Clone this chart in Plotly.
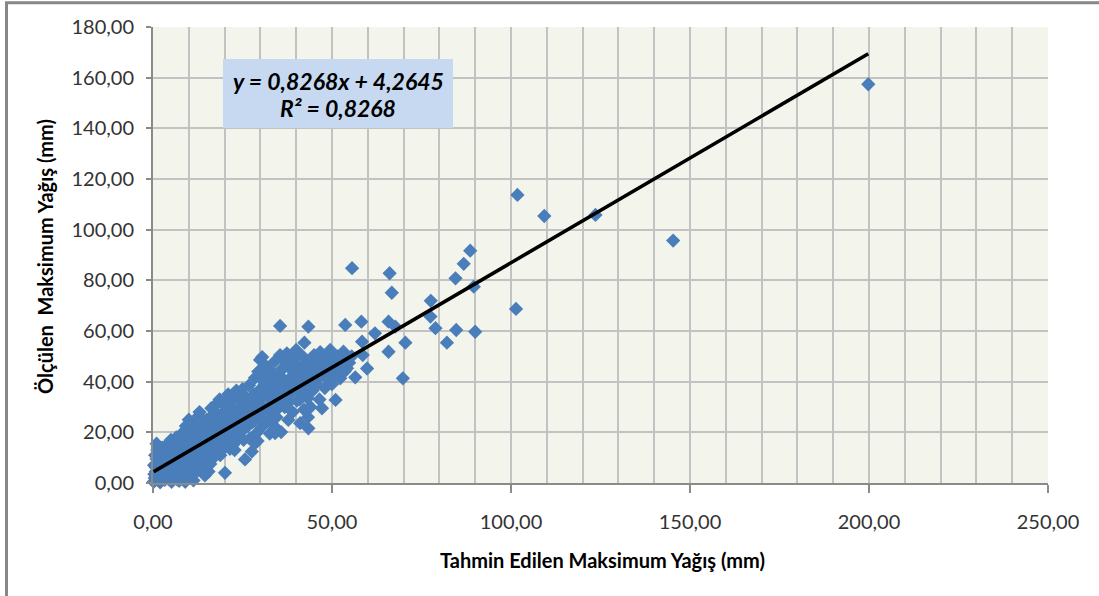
import plotly.graph_objects as go

# --- Yoğun küme: tahmin edilen (x) ve ölçülen (y) maksimum yağış, mm ---
kume_x = [
    0.2, 0.5, 0.8, 0.3, 1.0, 1.5, 1.8, 2.2, 2.5, 2.8,
    0.6, 1.2, 2.0, 2.6, 3.0, 3.3, 3.5, 3.8, 4.0, 4.3,
    4.6, 5.0, 5.2, 5.5, 5.8, 4.8, 3.6, 5.9, 6.2, 6.5,
    6.8, 7.0, 7.3, 7.6, 8.0, 8.3, 8.6, 8.9, 7.8, 6.0,
    8.5, 9.2, 9.5, 9.8, 10.2, 10.5, 10.8, 11.0, 11.3, 11.6,
    12.0, 9.0, 10.0, 11.8, 12.2, 12.5, 12.8, 13.2, 13.5, 13.8,
    14.2, 14.5, 14.8, 13.0, 14.0, 15.0, 15.3, 15.6, 16.0, 16.3,
    16.6, 17.0, 17.3, 17.6, 18.0, 16.8, 15.5, 17.8, 18.3, 18.6,
    19.0, 19.3, 19.6, 20.0, 20.3, 20.6, 20.1, 18.8, 21.0, 19.5,
    21.3, 21.6, 22.0, 22.3, 22.6, 23.0, 23.3, 23.6, 24.0, 22.8,
    23.8, 21.5, 24.3, 24.6, 25.0, 25.3, 25.7, 25.8, 26.2, 26.5,
    26.8, 27.0, 27.6, 27.3, 27.8, 28.2, 28.5, 28.8, 29.0, 29.4,
    29.6, 29.9, 30.0, 28.5, 30.3, 29.2, 30.6, 31.0, 31.3, 31.6,
    32.0, 32.3, 32.6, 33.0, 33.3, 30.5, 32.8, 31.8, 33.6, 34.0,
    34.1, 34.5, 34.8, 35.2, 35.5, 35.8, 36.0, 35.0, 33.8, 36.4,
    36.8, 37.2, 37.4, 37.8, 38.0, 38.4, 38.8, 39.0, 39.4, 39.8,
    40.2, 40.6, 41.0, 41.1, 41.4, 41.8, 42.2, 42.5, 40.0, 42.8,
    43.2, 43.3, 43.4, 43.8, 44.2, 44.6, 45.0, 44.0, 45.4, 45.8,
    46.2, 46.7, 46.5, 47.0, 47.2, 47.5, 48.0, 48.3, 48.7, 49.2,
    49.5, 50.0, 50.5, 51.0, 51.0, 51.5, 52.0, 52.3, 52.8, 53.2,
    53.5, 53.7, 54.2, 54.8, 56.5, 55.5,
    1.3, 2.3, 3.1, 4.1, 5.3, 6.4, 7.2, 8.2, 9.6, 10.6,
    11.5, 12.6, 13.6, 14.6, 15.8, 16.9, 18.2, 19.4, 20.4, 21.2,
    22.5, 23.5, 24.5, 25.5, 26.5, 27.5, 28.3, 29.8, 31.2, 32.5,
    33.5, 34.5, 35.5, 36.5, 37.5, 38.5, 39.5, 40.5, 41.5, 42.5,
    0.4, 0.9, 1.6, 2.4, 3.2, 4.4, 5.6, 6.6, 7.4, 8.8,
    9.4, 10.4, 11.2, 12.4, 13.3, 14.3, 15.2, 16.2, 17.2, 18.4,
    19.2, 20.2, 21.0, 22.0, 23.0, 24.2, 25.2, 26.2, 27.2, 28.0,
    29.0, 30.0, 31.0, 32.0, 33.0, 34.0, 35.0, 36.0, 37.0, 38.0,
    39.0, 40.0, 41.0, 42.0, 43.0, 44.0, 45.0, 46.0, 47.0, 48.0,
    49.0, 50.0, 51.0, 52.0, 1.0, 2.0, 3.0, 4.0, 5.0, 6.0,
    7.0, 8.0, 9.0, 10.0, 11.0, 12.0, 13.0, 14.0, 15.0, 16.0,
]
kume_y = [
    0.5, 2.0, 4.5, 7.0, 9.5, 1.0, 5.5, 3.0, 11.5, 8.0,
    11.0, 13.0, 0.3, 14.0, 6.0, 1.2, 10.0, 15.0, 3.5, 12.5,
    7.5, 17.0, 0.5, 9.0, 14.5, 5.0, 8.5, 2.8, 11.5, 18.0,
    4.0, 15.0, 0.8, 8.5, 19.5, 13.0, 6.0, 16.5, 2.2, 7.0,
    10.5, 22.5, 3.0, 11.0, 18.0, 7.5, 14.5, 21.0, 1.0, 16.0,
    9.5, 0.5, 25.0, 24.0, 4.5, 19.5, 26.5, 12.0, 6.5, 22.0,
    15.5, 3.0, 18.5, 28.0, 10.0, 25.0, 13.5, 21.0, 7.5, 29.5,
    17.0, 24.5, 10.5, 31.0, 19.5, 27.0, 4.5, 14.5, 23.0, 33.0,
    12.5, 27.5, 20.5, 16.0, 30.5, 24.0, 4.0, 11.0, 35.0, 31.5,
    18.5, 27.0, 32.5, 15.0, 22.0, 29.0, 36.5, 17.0, 25.0, 13.0,
    33.5, 13.5, 20.0, 30.0, 37.0, 17.0, 9.3, 26.5, 33.5, 22.5,
    38.5, 17.5, 12.4, 29.0, 24.0, 35.0, 41.5, 19.5, 31.0, 44.0,
    26.5, 48.6, 37.0, 15.7, 22.0, 16.6, 42.0, 29.0, 46.5, 34.5,
    24.5, 39.0, 19.5, 44.0, 31.5, 49.7, 27.5, 36.5, 37.5, 48.0,
    19.7, 26.0, 41.5, 33.0, 50.5, 20.1, 45.0, 29.5, 22.5, 38.0,
    30.0, 47.5, 51.2, 24.9, 41.0, 35.5, 44.5, 28.0, 49.5, 38.5,
    32.5, 46.0, 41.5, 23.6, 36.0, 50.0, 29.0, 44.0, 52.5, 39.5,
    33.5, 26.0, 21.6, 47.5, 42.0, 36.5, 50.5, 30.0, 44.5, 39.0,
    48.0, 51.7, 33.0, 42.5, 29.5, 46.0, 37.5, 49.5, 41.0, 44.5,
    52.5, 39.0, 47.0, 32.8, 43.0, 50.0, 45.5, 41.3, 48.0, 51.8,
    44.0, 49.0, 45.3, 47.5, 41.7, 50.0,
    6.5, 9.0, 12.0, 9.5, 12.0, 14.0, 11.5, 16.5, 14.0, 20.0,
    12.5, 16.0, 18.0, 22.0, 17.5, 20.5, 27.0, 24.5, 20.0, 29.0,
    26.0, 21.0, 33.0, 23.5, 30.0, 33.5, 27.5, 33.0, 39.0, 34.0,
    41.0, 36.5, 44.0, 33.5, 39.0, 46.5, 43.0, 37.0, 45.0, 35.0,
    3.5, 6.0, 3.0, 5.5, 3.5, 1.5, 6.5, 1.5, 5.5, 3.0,
    6.5, 11.0, 5.5, 14.0, 9.0, 12.5, 10.0, 13.5, 21.5, 16.5,
    18.0, 26.5, 22.5, 19.0, 25.5, 28.5, 21.0, 27.0, 32.0, 30.0,
    35.0, 31.0, 40.0, 29.5, 35.0, 31.0, 38.5, 41.5, 35.0, 32.0,
    41.0, 44.0, 33.0, 47.0, 42.5, 39.5, 45.0, 41.5, 49.0, 44.0,
    47.5, 43.5, 48.5, 46.5, 15.5, 12.0, 2.0, 14.0, 10.5, 16.0,
    10.0, 4.5, 17.5, 15.0, 19.0, 21.5, 16.0, 24.5, 19.0, 23.0,
]

# --- Kümeden ayrık noktalar ---
seyrek_x = [
    35.5, 43.4, 53.7, 42.3, 55.6, 58.2, 58.4, 58.6, 59.8, 62.0,
    65.8, 67.7, 65.8, 70.5, 69.8, 66.1, 66.7, 77.6, 77.5, 78.9,
    82.1, 84.7, 90.0, 84.5, 86.8, 88.6, 89.6, 101.4, 101.8, 109.3,
    123.6, 145.3, 199.8,
]
seyrek_y = [
    62.0, 61.7, 62.4, 55.4, 84.8, 63.7, 55.8, 50.5, 45.2, 59.1,
    63.7, 61.7, 51.8, 55.4, 41.3, 82.8, 75.1, 71.9, 65.7, 61.1,
    55.4, 60.4, 59.7, 80.8, 86.5, 91.7, 77.5, 68.7, 113.7, 105.4,
    105.8, 95.7, 157.4,
]

# Doğrusal regresyon katsayıları
egim = 0.8268
sabit = 4.2645
r_kare = 0.8268

x_tick_degerleri = [0, 50, 100, 150, 200, 250]
y_tick_degerleri = [0, 20, 40, 60, 80, 100, 120, 140, 160, 180]

W, H = 1099, 596
ML, MR, MT, MB = 153, 51, 27, 113
PW, PH = W - ML - MR, H - MT - MB


def kagit_x(px):
    return (px - ML) / PW


def kagit_y(py):
    return (H - MB - py) / PH


tum_x = kume_x + seyrek_x
tum_y = kume_y + seyrek_y

x_min, x_max = min(tum_x), max(tum_x)
egilim_x = [x_min, x_max]
egilim_y = [egim * v + sabit for v in egilim_x]

fig = go.Figure()
fig.add_trace(go.Scatter(
    x=tum_x, y=tum_y, mode="markers",
    marker=dict(symbol="diamond", size=11, color="#4a7ebb", line=dict(width=0)),
    cliponaxis=False, showlegend=False, hoverinfo="x+y",
))
fig.add_trace(go.Scatter(
    x=egilim_x, y=egilim_y, mode="lines",
    line=dict(color="#000000", width=3.6),
    showlegend=False, hoverinfo="skip",
))


def tr(v, n=4):
    return f"{v:.{n}f}".replace(".", ",")


denklem_1 = f"y = {tr(egim)}x + {tr(sabit)}"
denklem_2 = f"R² = {tr(r_kare)}"
denklem_font = dict(family="Lato", size=23, color="#000000", weight="bold", style="italic")

cerceve = dict(color="#878787", width=3)

fig.update_layout(
    width=W, height=H,
    margin=dict(l=ML, r=MR, t=MT, b=MB, pad=0),
    paper_bgcolor="#ffffff",
    plot_bgcolor="#f3f5ed",
    separators=",.",
    font=dict(family="Lato", color="#333333"),
    xaxis=dict(
        range=[0, 250], tickvals=x_tick_degerleri, tickformat=".2f",
        showgrid=True, gridcolor="#c2c2c2", gridwidth=1.5,
        minor=dict(dtick=10, showgrid=True, gridcolor="#c2c2c2", gridwidth=1.5, ticks=""),
        ticks="outside", ticklen=8, tickwidth=1.5, tickcolor="#8a8a8a",
        showline=True, linecolor="#8a8a8a", linewidth=2,
        zeroline=False, tickfont=dict(family="Lato", size=20, color="#333333"),
        ticklabelstandoff=12,
    ),
    yaxis=dict(
        range=[0, 180], tickvals=y_tick_degerleri, tickformat=".2f",
        showgrid=True, gridcolor="#c2c2c2", gridwidth=1.5,
        ticks="outside", ticklen=5, tickwidth=1.5, tickcolor="#8a8a8a",
        showline=True, linecolor="#8a8a8a", linewidth=2,
        zeroline=False, tickfont=dict(family="Lato", size=20, color="#333333"),
        ticklabelstandoff=8,
    ),
    shapes=[
        # grafik alanının çerçevesi: sol ve üst kenar
        dict(type="line", xref="paper", yref="paper",
             x0=kagit_x(6.5), x1=kagit_x(6.5), y0=kagit_y(2.8), y1=kagit_y(600),
             line=cerceve, layer="above"),
        dict(type="line", xref="paper", yref="paper",
             x0=kagit_x(5), x1=kagit_x(1099), y0=kagit_y(2.8), y1=kagit_y(2.8),
             line=cerceve, layer="above"),
        # denklem kutusu
        dict(type="rect", xref="paper", yref="paper",
             x0=kagit_x(223), x1=kagit_x(453), y0=kagit_y(128), y1=kagit_y(59),
             line=dict(width=0), fillcolor="#c6d9f1", layer="above"),
    ],
    annotations=[
        dict(text=denklem_1, xref="paper", yref="paper",
             x=kagit_x(338), y=kagit_y(81), xanchor="center", yanchor="middle",
             showarrow=False, font=denklem_font),
        dict(text=denklem_2, xref="paper", yref="paper",
             x=kagit_x(338), y=kagit_y(108), xanchor="center", yanchor="middle",
             showarrow=False, font=denklem_font),
        dict(text="Tahmin Edilen Maksimum Yağış (mm)", xref="paper", yref="paper",
             x=kagit_x(602), y=kagit_y(560), xanchor="center", yanchor="middle",
             showarrow=False,
             font=dict(family="Lato", size=20, color="#000000", weight="bold")),
        dict(text="Ölçülen \u00a0Maksimum Yağış (mm)", xref="paper", yref="paper",
             x=kagit_x(45), y=kagit_y(257), xanchor="center", yanchor="middle",
             textangle=-90, showarrow=False,
             font=dict(family="Lato", size=20, color="#000000", weight="bold")),
    ],
)

fig.write_html("out.html")
